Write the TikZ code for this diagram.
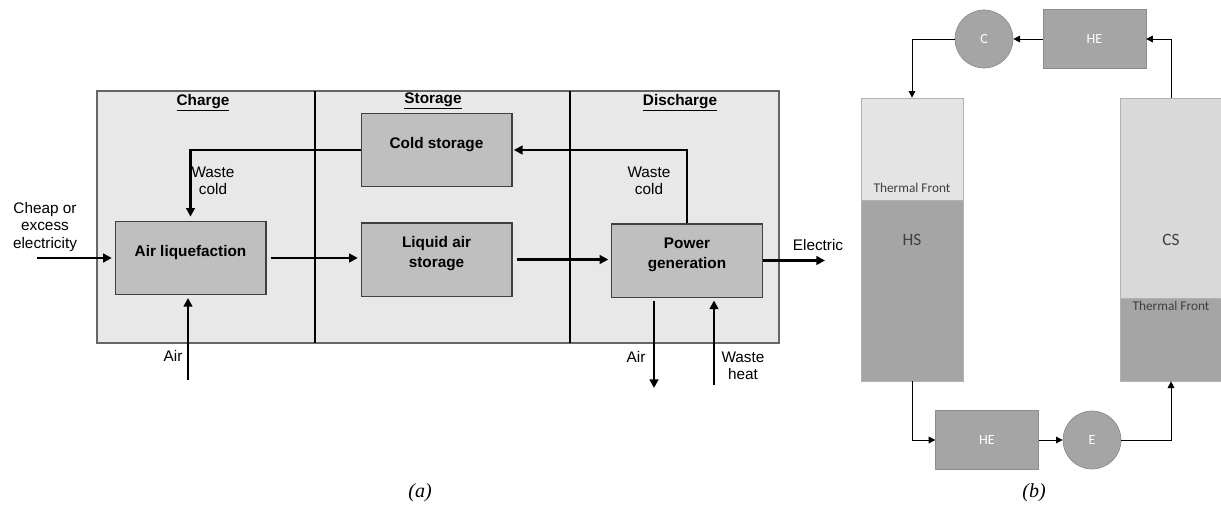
\documentclass[tikz,border=0pt]{standalone}
\usepackage{fontspec}
\newfontfamily\arialfont{Liberation Sans}
\newfontfamily\calfont{Carlito}
\newfontfamily\timesfont{Liberation Serif}
\usetikzlibrary{arrows.meta}
\definecolor{panelgray}{HTML}{E8E8E8}
\definecolor{procgray}{HTML}{BFBFBF}
\definecolor{unitgray}{HTML}{A5A5A5}
\definecolor{frontgray}{HTML}{D9D9D9}
\newcommand{\twoline}[2]{\begin{tabular}[b]{@{}c@{}}#1\\#2\end{tabular}}

\begin{document}
\begin{tikzpicture}[x=0.75pt, y=-0.75pt,
    font=\arialfont\fontsize{11.5}{13.5}\selectfont,
    procbox/.style={draw=black!75, line width=1pt, fill=procgray,
                    minimum width=113pt, minimum height=55pt, inner sep=0pt,
                    font=\arialfont\bfseries\fontsize{11.5}{14.5}\selectfont},
    oneline/.style={text height=8.5pt, text depth=10.1pt},
    twolines/.style={text depth=13.2pt},
    head/.style={inner sep=0pt, font=\arialfont\bfseries\fontsize{11.5}{13.5}\selectfont},
    lbl/.style={align=center, inner sep=0pt, font=\arialfont\fontsize{11.5}{13}\selectfont},
    arr/.style={-{Triangle[length=6.5pt,width=6.5pt]}, line width=2.1pt},
    unitbox/.style={draw=unitgray!85!black, line width=0.5pt, fill=unitgray, text=white,
                    inner sep=0pt, font=\calfont\fontsize{10.5}{12}\selectfont},
    hx/.style={unitbox, minimum width=77pt, minimum height=44pt},
    turbo/.style={unitbox, circle, minimum size=43.5pt},
    tankcol/.style={draw=black!30, line width=0.5pt, minimum width=76.5pt, inner sep=0pt,
                    text=black!75, font=\calfont\fontsize{13}{15}\selectfont},
    frontlbl/.style={inner sep=0pt, text=black!75, font=\calfont\fontsize{10}{12}\selectfont},
    link/.style={-{Triangle[length=5pt,width=5pt]}, line width=0.75pt},
    capt/.style={font=\timesfont\itshape\fontsize{15}{18}\selectfont}
  ]
  \useasboundingbox (0,0) rectangle (1221,504);

  % (a) liquid air energy storage chain
  \node[draw=black!60, line width=1.2pt, fill=panelgray, minimum width=511.5pt,
        minimum height=189pt, inner sep=0pt] (panel) at (438,217) {};
  \draw[line width=0.9pt] (315,91) -- (315,343);
  \draw[line width=0.9pt] (570,91) -- (570,343);

  \node[head] (charge) at (203,103) {\underline{Charge}};
  \node[head] (storage) at (433,101) {\underline{Storage}};
  \node[head] (discharge) at (680,103) {\underline{Discharge}};

  \node[procbox, oneline] (liq) at (190.5,258) {Air liquefaction};
  \node[procbox, oneline] (cold) at (436.5,150) {Cold storage};
  \node[procbox, twolines] (las) at (436.5,259.5) {\twoline{Liquid air}{storage}};
  \node[procbox, twolines] (pgen) at (687,260.5) {\twoline{Power}{generation}};

  \coordinate (cheap) at (37,258);
  \coordinate (elec) at (825,260.5);
  \coordinate (airin) at (188,380);
  \coordinate (airout) at (654,388);
  \coordinate (heatin) at (714,385);

  \draw[arr, shorten >=2pt] (cheap) -- (liq.west);
  \draw[arr, shorten <=3pt, shorten >=2pt] (liq.east) -- (liq.east -| las.west);
  \draw[arr, shorten <=3pt, shorten >=2pt] (las.east) -- (las.east -| pgen.west);
  \draw[arr] (pgen.east) -- (elec);
  \draw[arr, shorten >=3pt] (cold.west) -| (liq.north);
  \draw[arr, shorten >=1pt] (pgen.north) |- (cold.east);
  \draw[arr, shorten >=2pt] (airin) -- (liq.south -| airin);
  \draw[arr, shorten <=2pt] (pgen.south -| airout) -- (airout);
  \draw[arr, shorten >=2pt] (heatin) -- (pgen.south -| heatin);

  \node[lbl] (cheaplbl) at (45,227) {Cheap or\\excess\\electricity};
  \node[lbl] (wcleft) at (213,180.5) {Waste\\cold};
  \node[lbl] (wcright) at (649,180.5) {Waste\\cold};
  \node[lbl] (eleclbl) at (818,245) {Electric};
  \node[lbl] (airinlbl) at (173,356) {Air};
  \node[lbl] (airoutlbl) at (636,357) {Air};
  \node[lbl] (heatlbl) at (743,365.5) {Waste\\heat};

  % (b) hot and cold stores
  \node[tankcol, fill=unitgray, minimum height=212.25pt] (hs) at (912,239.5) {HS};
  \node[tankcol, fill=frontgray!70!white, minimum height=76.5pt, anchor=north] (hswarm) at (hs.north) {};
  \node[frontlbl] (hstf) at (912,188) {Thermal Front};

  \node[tankcol, fill=frontgray, minimum height=212.25pt] (cs) at (1171,239.5) {CS};
  \node[tankcol, fill=unitgray, minimum height=62.25pt, anchor=south] (cscold) at (cs.south) {};
  \node[frontlbl] (cstf) at (1171,306) {Thermal Front};

  \node[turbo] (comp) at (984,39) {C};
  \node[hx] (hetop) at (1094.5,39) {HE};
  \node[hx] (hebot) at (987,440) {HE};
  \node[turbo] (expd) at (1092,440) {E};

  \draw[link] (cs.north) |- (hetop.east);
  \draw[link] (hetop.west) -- (comp.east);
  \draw[link] (comp.west) -| (hs.north);
  \draw[link] (hs.south) |- (hebot.west);
  \draw[link] (hebot.east) -- (expd.west);
  \draw[link] (expd.east) -| (cs.south);

  \node[capt] (capa) at (420,493) {(a)};
  \node[capt] (capb) at (1034,493) {(b)};
\end{tikzpicture}
\end{document}
